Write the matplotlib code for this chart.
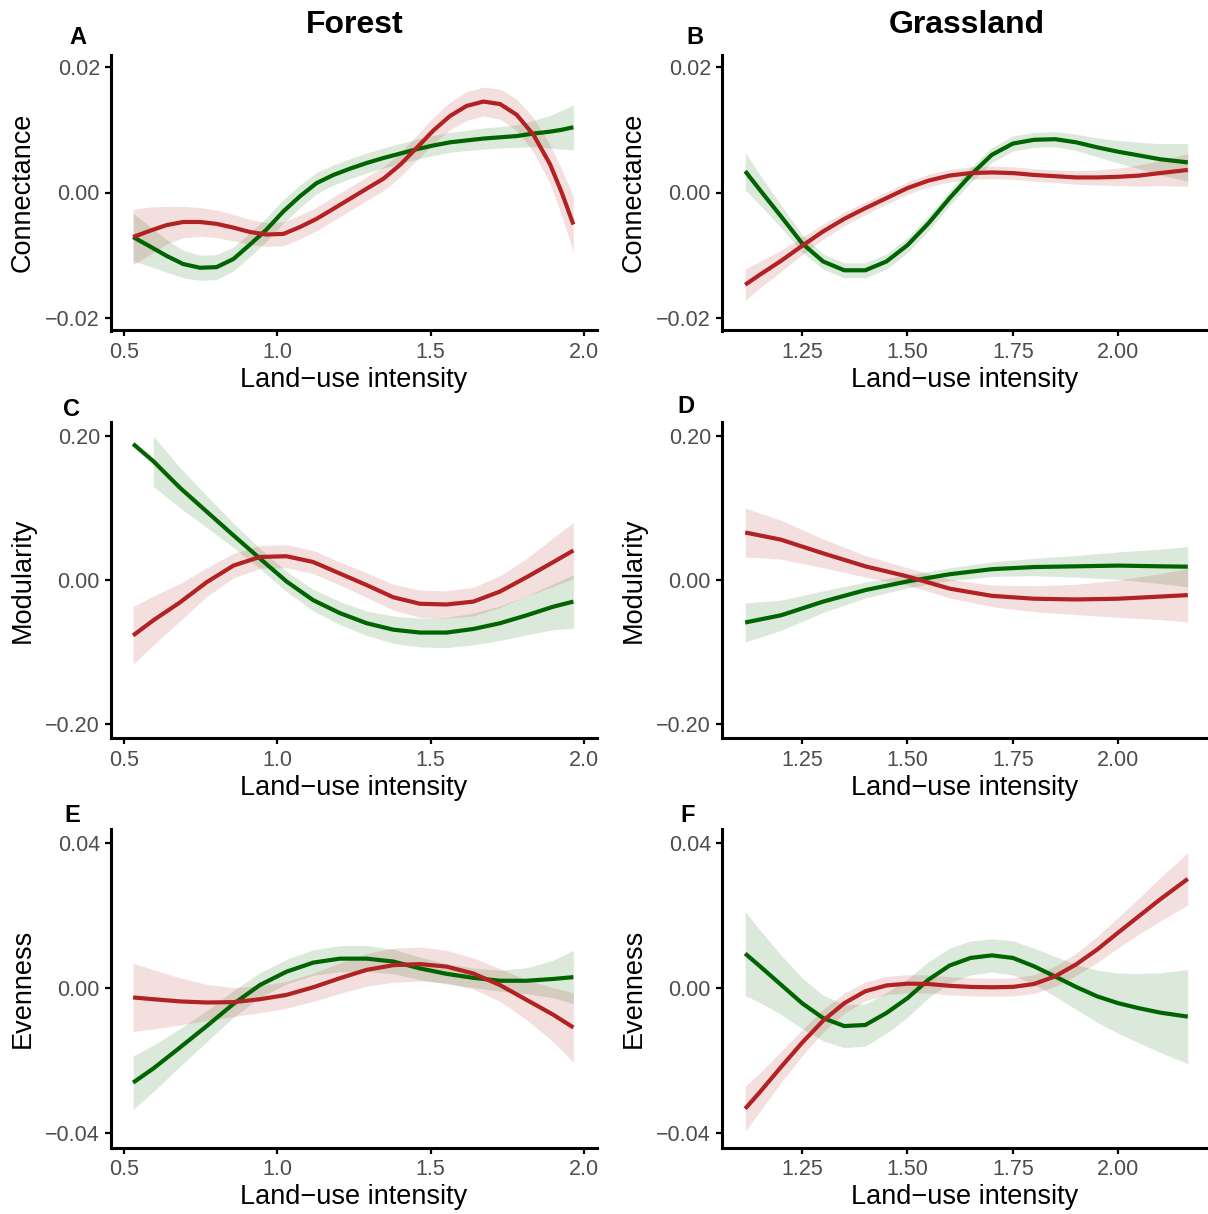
import numpy as np
import matplotlib
matplotlib.use("Agg")
import matplotlib.pyplot as plt
from matplotlib.ticker import FuncFormatter

plt.rcParams["font.family"] = ["Liberation Sans", "DejaVu Sans"]

GREEN = "#006400"
RED = "#b22222"

# ---------------- data ----------------
# A  Forest / Connectance
xA = [0.530, 0.585, 0.639, 0.693, 0.748, 0.802, 0.857, 0.911, 0.965, 1.020, 1.074, 1.128, 1.183, 1.237,
      1.291, 1.346, 1.400, 1.454, 1.509, 1.563, 1.617, 1.672, 1.726, 1.780, 1.835, 1.889, 1.927, 1.965]
gA = [-0.0071, -0.0086, -0.0101, -0.0114, -0.0120, -0.0119, -0.0106, -0.0083, -0.0059, -0.0030,
      -0.0006, 0.0015, 0.0028, 0.0038, 0.0047, 0.0055, 0.0062, 0.0069, 0.0075, 0.0080,
      0.0083, 0.0086, 0.0088, 0.0090, 0.0094, 0.0097, 0.0100, 0.0104]
gA_se = [0.0038, 0.0032, 0.0026, 0.0022, 0.0020, 0.0020, 0.0019, 0.0019, 0.0019, 0.0019,
         0.0018, 0.0017, 0.0016, 0.0016, 0.0016, 0.0016, 0.0016, 0.0016, 0.0016, 0.0016,
         0.0016, 0.0017, 0.0017, 0.0018, 0.0021, 0.0026, 0.0031, 0.0036]
rA = [-0.0071, -0.0061, -0.0052, -0.0047, -0.0047, -0.0050, -0.0056, -0.0063, -0.0067, -0.0066,
      -0.0055, -0.0042, -0.0026, -0.0010, 0.0006, 0.0022, 0.0044, 0.0071, 0.0099, 0.0122,
      0.0138, 0.0145, 0.0141, 0.0124, 0.0092, 0.0045, 0.0000, -0.0051]
rA_se = [0.0044, 0.0038, 0.0030, 0.0025, 0.0023, 0.0022, 0.0021, 0.0020, 0.0019, 0.0019,
         0.0019, 0.0019, 0.0019, 0.0019, 0.0019, 0.0019, 0.0019, 0.0020, 0.0021, 0.0022,
         0.0023, 0.0023, 0.0024, 0.0025, 0.0027, 0.0031, 0.0037, 0.0044]

# B  Grassland / Connectance
xB = [1.115, 1.15, 1.2, 1.25, 1.3, 1.35, 1.4, 1.45, 1.5, 1.55, 1.6, 1.65, 1.7, 1.75, 1.8,
      1.85, 1.9, 1.95, 2.0, 2.05, 2.1, 2.165]
gB = [0.0034, 0.0004, -0.0038, -0.0081, -0.0110, -0.0124, -0.0124, -0.0110, -0.0084, -0.0049,
      -0.0009, 0.0028, 0.0060, 0.0078, 0.0084, 0.0085, 0.0080, 0.0072, 0.0065, 0.0059, 0.0053, 0.0048]
gB_se = [0.0030, 0.0024, 0.0018, 0.0014, 0.0012, 0.0012, 0.0012, 0.0012, 0.0012, 0.0012, 0.0012,
         0.0012, 0.0012, 0.0012, 0.0012, 0.0012, 0.0013, 0.0015, 0.0018, 0.0021, 0.0025, 0.0030]
rB = [-0.0147, -0.0131, -0.0109, -0.0085, -0.0062, -0.0042, -0.0025, -0.0009, 0.0007, 0.0019,
      0.0027, 0.0031, 0.0032, 0.0031, 0.0028, 0.0026, 0.0024, 0.0024, 0.0025, 0.0027, 0.0031, 0.0036]
rB_se = [0.0025, 0.0021, 0.0017, 0.0014, 0.0012, 0.0011, 0.0010, 0.0010, 0.0010, 0.0010, 0.0010,
         0.0010, 0.0010, 0.0010, 0.0010, 0.0010, 0.0011, 0.0012, 0.0014, 0.0017, 0.0020, 0.0026]

# C  Forest / Modularity  (green band starts a little right of the line)
xC = [0.530, 0.596, 0.683, 0.770, 0.857, 0.943, 1.030, 1.117, 1.204, 1.291, 1.378, 1.465,
      1.552, 1.639, 1.726, 1.813, 1.900, 1.965]
gC = [0.189, 0.165, 0.128, 0.095, 0.062, 0.030, -0.002, -0.028, -0.046, -0.060, -0.069, -0.073,
      -0.073, -0.068, -0.060, -0.049, -0.037, -0.030]
gC_se = [np.nan, 0.035, 0.028, 0.022, 0.017, 0.014, 0.014, 0.015, 0.016, 0.017, 0.019, 0.020,
         0.021, 0.022, 0.024, 0.027, 0.032, 0.037]
rC = [-0.077, -0.056, -0.031, -0.003, 0.020, 0.032, 0.033, 0.025, 0.009, -0.007, -0.024, -0.033,
      -0.034, -0.030, -0.016, 0.004, 0.025, 0.041]
rC_se = [0.040, 0.034, 0.026, 0.020, 0.017, 0.016, 0.016, 0.016, 0.016, 0.017, 0.018, 0.019,
         0.019, 0.020, 0.022, 0.026, 0.034, 0.039]

# D  Grassland / Modularity
xD = [1.115, 1.2, 1.3, 1.4, 1.5, 1.6, 1.7, 1.8, 1.9, 2.0, 2.1, 2.165]
gD = [-0.059, -0.049, -0.030, -0.014, -0.002, 0.008, 0.015, 0.018, 0.019, 0.020, 0.019, 0.0185]
gD_se = [0.027, 0.021, 0.015, 0.011, 0.009, 0.009, 0.010, 0.012, 0.015, 0.019, 0.024, 0.028]
rD = [0.066, 0.056, 0.037, 0.019, 0.005, -0.012, -0.022, -0.026, -0.027, -0.026, -0.023, -0.021]
rD_se = [0.034, 0.027, 0.020, 0.015, 0.012, 0.013, 0.015, 0.018, 0.021, 0.026, 0.032, 0.037]

# E  Forest / Evenness
xE = xC
gE = [-0.0261, -0.0222, -0.0164, -0.0105, -0.0044, 0.0008, 0.0045, 0.0070, 0.0081, 0.0081,
      0.0073, 0.0054, 0.0039, 0.0028, 0.0020, 0.0020, 0.0025, 0.0030]
gE_se = [0.0074, 0.0064, 0.0052, 0.0043, 0.0037, 0.0034, 0.0034, 0.0035, 0.0036, 0.0036,
         0.0034, 0.0031, 0.0028, 0.0027, 0.0029, 0.0036, 0.0052, 0.0074]
rE = [-0.0026, -0.0031, -0.0037, -0.0040, -0.0039, -0.0031, -0.0019, 0.0002, 0.0027, 0.0050,
      0.0063, 0.0066, 0.0059, 0.0040, 0.0008, -0.0033, -0.0074, -0.0109]
rE_se = [0.0094, 0.0082, 0.0065, 0.0050, 0.0040, 0.0037, 0.0037, 0.0039, 0.0042, 0.0045,
         0.0047, 0.0047, 0.0045, 0.0043, 0.0045, 0.0055, 0.0075, 0.0096]

# F  Grassland / Evenness
xF = xB
gF = [0.0095, 0.0060, 0.0009, -0.0042, -0.0083, -0.0105, -0.0102, -0.0069, -0.0028, 0.0023,
      0.0062, 0.0083, 0.0090, 0.0083, 0.0060, 0.0032, 0.0003, -0.0023, -0.0042, -0.0056, -0.0068, -0.0079]
gF_se = [0.0116, 0.0100, 0.0082, 0.0070, 0.0063, 0.0060, 0.0058, 0.0056, 0.0053, 0.0050, 0.0048,
         0.0047, 0.0046, 0.0047, 0.0050, 0.0055, 0.0062, 0.0072, 0.0083, 0.0096, 0.0110, 0.0130]
rF = [-0.0333, -0.0287, -0.0218, -0.0151, -0.0090, -0.0042, -0.0009, 0.0007, 0.0012, 0.0011,
      0.0006, 0.0003, 0.0002, 0.0003, 0.0011, 0.0032, 0.0065, 0.0106, 0.0153, 0.0199, 0.0245, 0.0301]
rF_se = [0.0062, 0.0053, 0.0043, 0.0036, 0.0031, 0.0028, 0.0026, 0.0025, 0.0025, 0.0025, 0.0025,
         0.0025, 0.0025, 0.0025, 0.0026, 0.0028, 0.0031, 0.0036, 0.0042, 0.0050, 0.0060, 0.0072]

forest_ticks = [0.5, 1.0, 1.5, 2.0]
grass_ticks = [1.25, 1.50, 1.75, 2.00]

# ---------------- layout ----------------
W, H = 1208, 1214
fig = plt.figure(figsize=(W / 100, H / 100), dpi=100)

col_px = [(111, 597), (722, 1208)]
row_px = [(54.5, 330.5), (421.6, 738.4), (828.5, 1147.5)]

panels = [
    ("A", xA, gA, gA_se, rA, rA_se, "Connectance", (-0.022, 0.022), [-0.02, 0.0, 0.02], 0, 0),
    ("B", xB, gB, gB_se, rB, rB_se, "Connectance", (-0.022, 0.022), [-0.02, 0.0, 0.02], 0, 1),
    ("C", xC, gC, gC_se, rC, rC_se, "Modularity", (-0.22, 0.22), [-0.2, 0.0, 0.2], 1, 0),
    ("D", xD, gD, gD_se, rD, rD_se, "Modularity", (-0.22, 0.22), [-0.2, 0.0, 0.2], 1, 1),
    ("E", xE, gE, gE_se, rE, rE_se, "Evenness", (-0.044, 0.044), [-0.04, 0.0, 0.04], 2, 0),
    ("F", xF, gF, gF_se, rF, rF_se, "Evenness", (-0.044, 0.044), [-0.04, 0.0, 0.04], 2, 1),
]

letter_pos = {"A": (78, 37), "B": (695, 37), "C": (72, 410), "D": (686, 406),
              "E": (72, 815), "F": (688, 815)}

fmt2 = FuncFormatter(lambda v, _: f"{v:.2f}".replace("-", "\u2212"))
fmt1 = FuncFormatter(lambda v, _: f"{v:.1f}".replace("-", "\u2212"))

for letter, x, g, gse, r, rse, ylab, ylim, yticks, ri, ci in panels:
    x0, x1 = col_px[ci]
    y0, y1 = row_px[ri]
    ax = fig.add_axes([x0 / W, 1 - y1 / H, (x1 - x0) / W, (y1 - y0) / H])

    x = np.array(x)
    g, gse, r, rse = map(np.array, (g, gse, r, rse))
    ax.fill_between(x, g - gse, g + gse, color=GREEN, alpha=0.14, lw=0)
    ax.fill_between(x, r - rse, r + rse, color=RED, alpha=0.14, lw=0)
    ax.plot(x, g, color=GREEN, lw=3, solid_capstyle="butt", solid_joinstyle="round")
    ax.plot(x, r, color=RED, lw=3, solid_capstyle="butt", solid_joinstyle="round")

    if ci == 0:
        ax.set_xlim(0.458, 2.042)
        ax.set_xticks(forest_ticks)
        ax.xaxis.set_major_formatter(fmt1)
    else:
        ax.set_xlim(1.060, 2.213)
        ax.set_xticks(grass_ticks)
        ax.xaxis.set_major_formatter(fmt2)
    ax.set_ylim(*ylim)
    ax.set_yticks(yticks)
    ax.yaxis.set_major_formatter(fmt2)

    for s in ("top", "right"):
        ax.spines[s].set_visible(False)
    for s in ("left", "bottom"):
        ax.spines[s].set_linewidth(2.2)
    ax.tick_params(length=4, width=1.6, color="black", labelcolor="#4d4d4d",
                   labelsize=15.5, pad=4)

    ax.set_xlabel("Land\u2212use intensity", fontsize=19.5, va="center")
    ax.xaxis.set_label_coords(0.5, -0.179 if ri == 0 else -0.155)
    ax.set_ylabel(ylab, fontsize=19.5, va="center")
    ax.yaxis.set_label_coords(-0.182, 0.5)

    lx, ly = letter_pos[letter]
    fig.text(lx / W, 1 - ly / H, letter, fontsize=17, fontweight="bold",
             ha="center", va="center")

fig.text(355 / W, 1 - 25 / H, "Forest", fontsize=23, fontweight="bold", ha="center", va="center")
fig.text(967 / W, 1 - 25 / H, "Grassland", fontsize=23, fontweight="bold", ha="center", va="center")

fig.savefig("out.png", dpi=100)
